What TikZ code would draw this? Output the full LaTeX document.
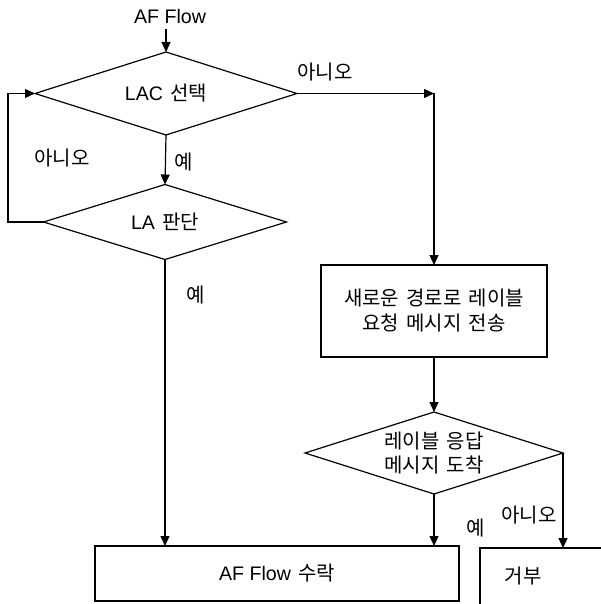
\documentclass[tikz,border=0pt]{standalone}
\usepackage{fontspec}
\setmainfont{Noto Sans CJK KR}[WordSpace=1.6]
\newfontfamily\lat{Liberation Sans}[Scale=0.98]
\usetikzlibrary{shapes.geometric,arrows.meta}
\begin{document}
\begin{tikzpicture}[x=1pt,y=-1pt,
  every node/.style={font=\fontsize{20}{24}\selectfont, inner sep=0pt, outer sep=0pt},
  dia/.style={draw, diamond, aspect=3, align=center},
  box/.style={draw, rectangle, align=center},
  lbl/.style={},
  conn/.style={line width=1.2pt},
  arr/.style={conn, -{Triangle[length=10pt,width=9pt]}},
  line width=1.2pt]
\useasboundingbox (0,0) rectangle (601,604);
\clip (0,0) rectangle (601,604);
\node (title) at (170,16) {\lat AF Flow};
\node[dia, minimum width=262, minimum height=83] (d1) at (166,93.5) {{\lat LAC} 선택};
\node[dia, minimum width=243, minimum height=75] (d2) at (165,222) {{\lat LA} 판단};
\node[box, minimum width=226, minimum height=92] (b1) at (434,311) {새로운 경로로 레이블\\[1pt]요청 메시지 전송};
\node[dia, minimum width=258, minimum height=82] (d3) at (434,453) {레이블 응답\\메시지 도착};
\node[box, minimum width=364, minimum height=55] (b2) at (277,573.5) {{\lat AF Flow} 수락};
\node[box, minimum width=160, minimum height=70, anchor=north west] (b3) at (480,548) {};
\node (b3t) at (523,576) {거부};
\coordinate (c1) at (b1.north |- d1.east);
\coordinate (c2) at (8,0);
% labels
\node[lbl] (l1) at (62,158) {아니오};
\node[lbl] (l2) at (184,162) {예};
\node[lbl] (l3) at (325,72) {아니오};
\node[lbl] (l4) at (196,295) {예};
\node[lbl] (l5) at (476,528) {예};
\node[lbl] (l6) at (529,515) {아니오};
% connectors
\draw[arr, shorten <=6pt] (title.south -| d1.north) -- (d1.north);
\draw[arr] (d1.south) -- (d2.north);
\draw[arr] (d2.west) -| (c2 |- d2.west) |- (d1.west);
\draw[arr] (d1.east) -- (c1);
\draw[arr] (c1) -- (b1.north);
\draw[arr] (b1.south) -- (d3.north);
\draw[arr] (d3.south) -- (d3.south |- b2.north);
\draw[arr] (d2.south) -- (d2.south |- b2.north);
\draw[arr] (d3.east) -- (d3.east |- b3.north);
\end{tikzpicture}
\end{document}
